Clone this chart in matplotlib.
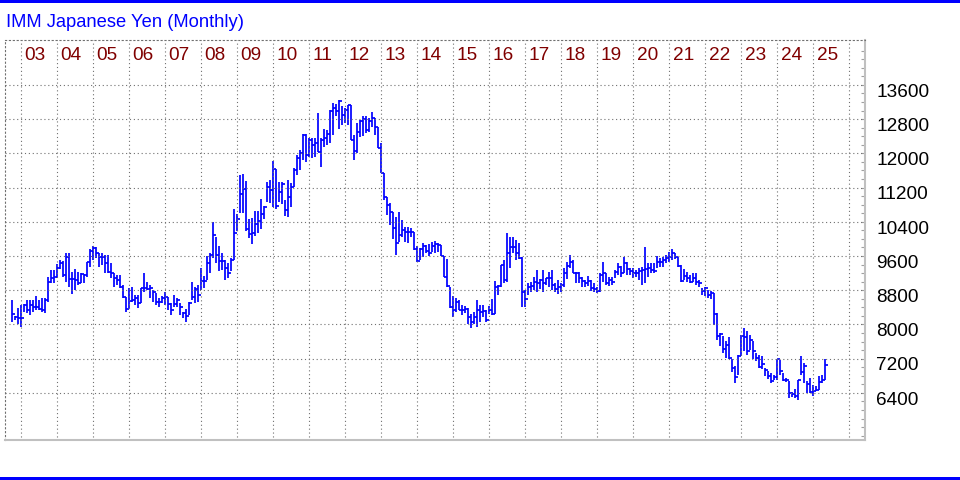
import numpy as np
import matplotlib.pyplot as plt
from matplotlib.patches import Rectangle

# monthly bars, first bar ~ Oct 2002
highs = [8570, 8196, 8375, 8453, 8477, 8570, 8570, 8570, 8664, 8570, 8609, 8609, 9116, 9272, 9272, 9413, 9506, 9491, 9662, 9678,
         9233, 9288, 9233, 9194, 9179, 9467, 9756, 9834, 9818, 9678, 9662, 9623, 9623, 9428, 9194, 9155, 9155, 8921, 8648, 8843,
         8882, 8687, 8687, 8843, 9194, 8999,
         8927, 8809, 8730, 8612, 8667, 8770, 8652, 8494, 8691, 8612, 8494, 8298, 8353, 8534, 8982, 8872, 8927, 9320, 9139, 9595,
         9673, 10397, 10043, 9831, 9673, 9516, 9438, 9555, 10695, 10577, 11497, 11521, 11363, 10459, 10499, 10656, 10656, 10931,
         10774, 11340, 11387, 11827, 11623, 11324, 11324,
         10912, 11380, 11302, 11654, 11965, 12082, 12449, 12449, 12355, 12355, 12355, 12940, 12355, 12566, 12550, 13018, 13174,
         13159, 13237, 13096, 13057, 13135, 13135, 12433, 12706, 12784, 12862, 12878, 12823, 12956, 12823, 12628, 12238, 11536,
         10990, 10834, 10639, 10522, 10639, 10444, 10288, 10288, 10249, 10171, 9836, 9781, 9898, 9859, 9883,
         9936, 9960, 9913, 9858, 9600, 9522, 8881, 8662, 8630, 8568, 8450, 8427, 8396, 8255, 8294, 8584, 8450, 8450, 8333, 8427,
         8607, 9021, 8920, 9389, 9506, 10132, 10054, 10054, 9975, 9897, 9584, 8802, 8959, 8998, 9115, 9272, 9053, 9272, 9076,
         9233, 9272, 8959, 9037, 8959, 9311,
         9468, 9623, 9507, 9235, 9235, 9118, 9041, 9134, 9041, 8963, 8885, 9196, 9468, 9212, 9118, 9103, 9274, 9429, 9367, 9584,
         9468, 9313, 9313, 9274, 9313, 9351, 9818, 9429, 9429, 9429, 9600, 9546, 9584, 9623, 9701, 9755, 9678, 9584, 9390, 9289,
         9235, 9157, 9212, 9196, 9041,
         8855, 8878, 8816, 8777, 8738, 8270, 7803, 7725, 7608, 7709, 7195, 7024, 7297, 7764, 7920, 7842, 7764, 7608, 7335, 7297,
         7258, 6985, 6907, 6868, 6829, 7195, 7180, 6868, 6751, 6673, 6416, 6494, 6712, 7273, 7102, 6673, 6751, 6595, 6556, 6790,
         6829, 7195]
lows = [8063, 8102, 8009, 7946, 8297, 8258, 8219, 8297, 8336, 8336, 8297, 8274, 8531, 8960, 8976, 9077, 9288, 9116, 9000, 8882,
        8703, 8804, 8921, 8960, 8960, 9116, 9350, 9506, 9545, 9350, 9389, 9210, 9210, 9077, 8882, 8921, 8843, 8609, 8297, 8375,
        8531, 8453, 8375, 8492, 8765, 8804,
        8612, 8534, 8455, 8416, 8494, 8455, 8337, 8219, 8416, 8416, 8219, 8141, 8062, 8219, 8573, 8510, 8534, 8809, 8848, 9045,
        9202, 9555, 9438, 9241, 9280, 9045, 9084, 9241, 9516, 10184, 10617, 10617, 10184, 10027, 9870, 10066, 10145, 10224,
        10459, 10852, 10837, 10735, 10695, 10852, 10813,
        10538, 10522, 10756, 11224, 11497, 11614, 11848, 11809, 11926, 11887, 11926, 12043, 11692, 12160, 12199, 12238, 12433,
        12862, 12566, 12652, 12706, 12667, 12316, 11848, 12004, 12394, 12410, 12472, 12511, 12628, 12433, 12121, 11536, 10912,
        10561, 10327, 9992, 9625, 9937, 10054, 9937, 9914, 10054, 9742, 9469, 9508, 9586, 9664, 9610,
        9702, 9663, 9702, 9600, 9100, 8881, 8396, 8177, 8294, 8333, 8216, 8271, 8020, 7926, 8020, 7942, 8059, 8177, 8059, 8239,
        8216, 8255, 8685, 8881, 8959, 8998, 9311, 9663, 9506, 9522, 8411, 8411, 8685, 8763, 8802, 8763, 8841, 8763, 8920,
        8881, 8802, 8763, 8724, 8763, 8881,
        9056, 9313, 9196, 8978, 8978, 8885, 8870, 8901, 8792, 8769, 8745, 8769, 9002, 8924, 8901, 8924, 9079, 9157, 9118, 9196,
        9157, 9157, 9079, 9118, 9041, 8924, 8963, 9118, 9196, 9212, 9313, 9351, 9351, 9429, 9452, 9507, 9522, 9351, 9002, 9041,
        9002, 8963, 9002, 8924, 8885,
        8699, 8660, 8621, 8597, 7998, 7647, 7491, 7335, 7219, 7195, 6884, 6634, 6829, 7258, 7374, 7297, 7398, 7195, 7141, 6985,
        6962, 6790, 6728, 6634, 6712, 6712, 6829, 6673, 6650, 6284, 6307, 6284, 6245, 6829, 6634, 6401, 6401, 6323, 6440, 6479,
        6634, 6712]
closes = [8235, 8165, 8141, 8141, 8453, 8336, 8453, 8414, 8399, 8352, 8336, 8570, 9000, 9077, 9116, 9311, 9428, 9155, 9584, 9054,
          9054, 9038, 8960, 9171, 9155, 9452, 9725, 9779, 9662, 9584, 9584, 9428, 9233, 9210, 9077, 9038, 8882, 8633, 8360, 8547,
          8570, 8609, 8492, 8843, 8843, 8820,
          8848, 8770, 8534, 8534, 8612, 8652, 8479, 8337, 8479, 8573, 8416, 8259, 8196, 8494, 8652, 8825, 8691, 9021, 9021, 9438,
          9634, 10082, 9634, 9477, 9477, 9320, 9202, 9501, 10145, 10475, 11049, 11167, 10224, 10106, 10145, 10342, 10420, 10577,
          10758, 11206, 11151, 11623, 10774, 11104, 11285,
          10678, 10990, 11224, 11614, 11887, 12004, 12418, 11965, 12316, 12199, 12238, 12043, 12316, 12355, 12449, 12979, 13057,
          12979, 13213, 12901, 13018, 13135, 12316, 12067, 12511, 12761, 12800, 12550, 12745, 12823, 12628, 12121, 11536, 10990,
          10795, 10639, 10249, 9914, 10093, 10210, 10171, 10171, 10171, 9758, 9493, 9758, 9836, 9727, 9680,
          9835, 9874, 9858, 9600, 9100, 8896, 8411, 8333, 8529, 8349, 8333, 8372, 8177, 8059, 8177, 8333, 8294, 8318, 8114, 8333,
          8255, 8881, 8896, 9389, 9037, 9663, 9819, 9819, 9663, 9545, 8763, 8607, 8881, 8896, 8998, 8959, 9037, 8959, 9076,
          9076, 8920, 8841, 8881, 8920, 9193,
          9367, 9468, 9212, 9196, 9079, 9025, 8963, 9025, 8846, 8823, 8784, 9157, 9212, 8978, 9041, 9002, 9219, 9351, 9212, 9429,
          9289, 9258, 9196, 9212, 9250, 9274, 9289, 9313, 9274, 9258, 9468, 9452, 9507, 9546, 9584, 9678, 9584, 9367, 9025, 9134,
          9079, 9002, 9079, 9002, 8963,
          8777, 8855, 8699, 8738, 8255, 7741, 7787, 7429, 7530, 7219, 6985, 6775, 7273, 7741, 7709, 7374, 7647, 7374, 7219, 7008,
          7086, 6930, 6790, 6673, 6775, 7195, 6907, 6697, 6697, 6401, 6385, 6338, 6712, 6884, 7039, 6619, 6416, 6440, 6463, 6650,
          6712, 7063]

years = ['03', '04', '05', '06', '07', '08', '09', '10', '11', '12', '13', '14', '15', '16', '17', '18', '19', '20', '21',
         '22', '23', '24', '25']
price_levels = [6400, 7200, 8000, 8800, 9600, 10400, 11200, 12000, 12800, 13600]
first_jan = 3  # index of Jan 2003 bar

fig = plt.figure(figsize=(9.6, 4.8), dpi=100)
fig.patch.set_facecolor('white')
ax = fig.add_axes([5 / 960, 40 / 480, 860 / 960, 400 / 480])

x = np.arange(len(closes))
blue = '#0000ff'
ax.vlines(x, lows, highs, color=blue, lw=1.25)
ax.hlines(closes, x, x + 1, color=blue, lw=1.25)

dot = (0, (1, 2.5))
grid_c = '#707070'
year_pos = [first_jan - 0.1 + 12 * i for i in range(len(years) + 1)]
ax.vlines(year_pos, 0.008, 1, transform=ax.get_xaxis_transform(), color=grid_c, lw=0.8, linestyle=dot)
ax.hlines(price_levels, 0, 1, transform=ax.get_yaxis_transform(), color=grid_c, lw=0.8, linestyle=dot)

lab_font = 'Liberation Sans'
for i, y in enumerate(years):
    ax.text(year_pos[i] + 1.2, 0.95, y, transform=ax.get_xaxis_transform(), color='#800000',
            fontsize=13.7, family=lab_font, ha='left', va='baseline')

ax.set_xlim(-2.4, 284.2)
ax.set_ylim(5300, 14650)

for p in price_levels:
    ax.text(1.013, p - 275, str(p), transform=ax.get_yaxis_transform(), fontsize=13.7,
            family=lab_font, ha='left', va='baseline', color='black')

ax.yaxis.tick_right()
ax.set_yticks(np.arange(5400, 14600, 200))
ax.tick_params(axis='y', direction='in', length=3, color='#a0a0a0', labelright=False)
ax.set_xticks([])

for s in ['top', 'left']:
    ax.spines[s].set_linestyle(dot)
    ax.spines[s].set_color(grid_c)
    ax.spines[s].set_linewidth(0.8)
for s in ['right', 'bottom']:
    ax.spines[s].set_color('#c0c0c0')
    ax.spines[s].set_linewidth(1.5)

fig.text(6 / 960, 1 - 27 / 480, 'IMM Japanese Yen (Monthly)', color=blue, fontsize=13.2,
         family=lab_font, ha='left', va='baseline')
fig.add_artist(Rectangle((0, 1 - 3 / 480), 1, 3 / 480, transform=fig.transFigure, color=blue, lw=0))
fig.add_artist(Rectangle((0, 0), 1, 3 / 480, transform=fig.transFigure, color=blue, lw=0))

fig.savefig('out.png', dpi=100)
